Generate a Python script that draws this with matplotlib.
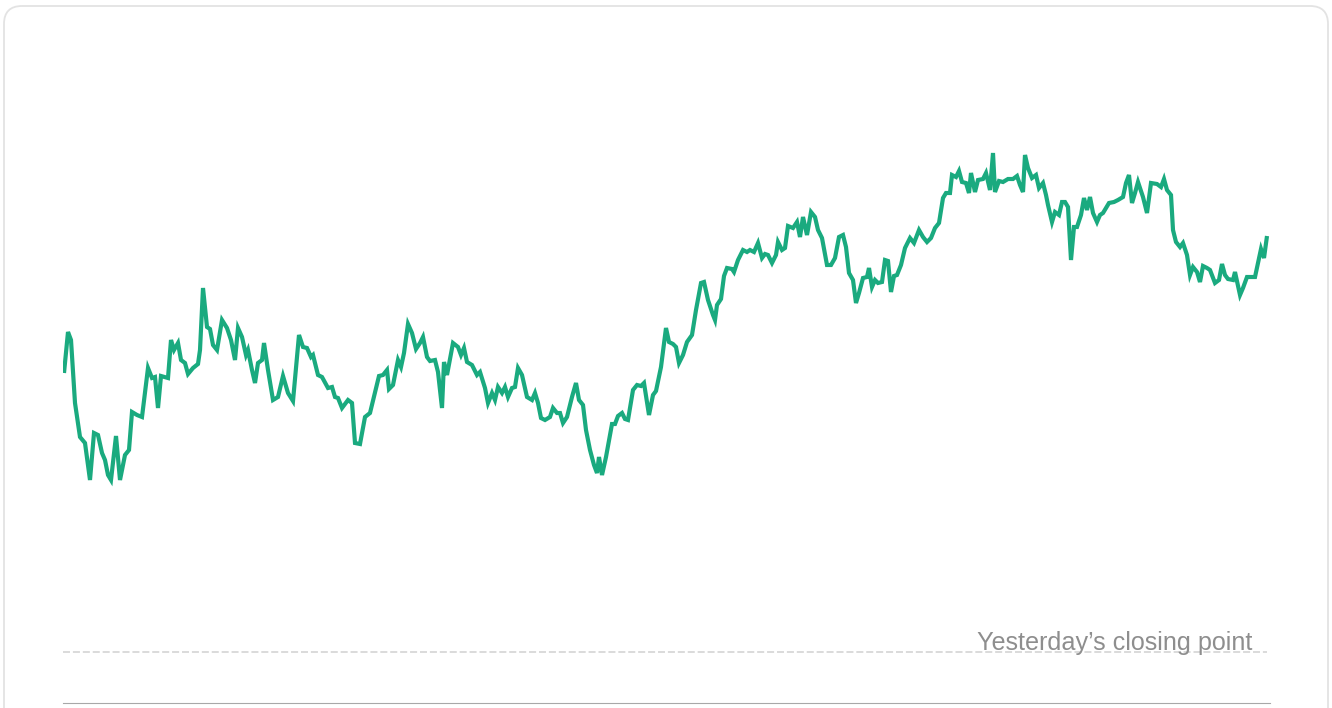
import matplotlib
matplotlib.use("Agg")
import matplotlib.pyplot as plt
from matplotlib.patches import FancyBboxPatch
from matplotlib.transforms import IdentityTransform

# intraday ticks (20 s each) since the open
ticks = [1, 5, 8, 12, 17, 22, 27, 31, 35, 39, 42, 45, 48, 53, 57, 62, 66, 69, 74, 79,
         85, 89, 92, 95, 98, 105, 108, 111, 115, 118, 122, 125, 130, 135, 137, 140, 144, 147, 150, 154,
         159, 164, 168, 172, 175, 179, 183, 185, 189, 192, 195, 199, 201, 205, 210, 215, 220, 225, 230, 236,
         240, 244, 248, 250, 255, 259, 265, 269, 272, 275, 279, 285, 289, 292, 297, 302, 307, 316, 320, 324,
         326, 330, 335, 338, 341, 345, 349, 353, 357, 360, 364, 367, 372, 375, 379, 381, 384, 390, 395, 398,
         401, 404, 409, 414, 417, 422, 425, 429, 432, 435, 439, 442, 445, 449, 452, 455, 459, 464, 469, 472,
         475, 478, 482, 487, 490, 494, 497, 500, 504, 509, 513, 516, 520, 523, 527, 531, 534, 536, 539, 543,
         549, 552, 555, 559, 562, 565, 570, 574, 578, 581, 586, 590, 593, 598, 603, 606, 610, 613, 616, 620,
         624, 629, 633, 638, 641, 645, 650, 652, 654, 658, 661, 664, 669, 671, 675, 680, 684, 687, 691, 695,
         699, 702, 705, 709, 713, 715, 719, 722, 725, 730, 734, 737, 740, 744, 748, 752, 755, 759, 764, 768,
         772, 776, 780, 783, 786, 790, 793, 796, 800, 804, 806, 809, 812, 815, 819, 822, 825, 828, 831, 834,
         838, 842, 847, 851, 856, 860, 864, 868, 872, 876, 880, 883, 887, 889, 893, 896, 899, 903, 906, 908,
         912, 915, 920, 923, 927, 930, 932, 936, 940, 945, 950, 954, 957, 960, 962, 965, 969, 973, 976, 980,
         983, 985, 989, 992, 996, 999, 1002, 1005, 1008, 1011, 1014, 1018, 1021, 1024, 1027, 1030, 1034, 1037, 1040, 1046,
         1051, 1055, 1060, 1063, 1066, 1069, 1072, 1075, 1080, 1084, 1088, 1094, 1098, 1101, 1104, 1108, 1110, 1113, 1117, 1120,
         1124, 1127, 1130, 1134, 1137, 1140, 1144, 1147, 1152, 1156, 1159, 1162, 1165, 1170, 1172, 1177, 1180, 1184, 1189, 1192,
         1198, 1201, 1204]

# points above yesterday's close
change = [279, 320, 312, 249, 215, 209, 172, 219, 217, 199, 192, 177, 172, 216, 172, 197, 202, 240, 237, 235,
          284, 274, 275, 244, 276, 274, 312, 302, 309, 292, 289, 278, 284, 288, 302, 364, 325, 323, 307, 302,
          332, 324, 312, 292, 324, 315, 297, 302, 282, 269, 289, 292, 309, 282, 252, 255, 276, 259, 251, 317,
          305, 304, 295, 297, 277, 275, 264, 265, 255, 254, 244, 252, 249, 209, 208, 235, 239, 276, 277, 282,
          263, 267, 292, 285, 299, 328, 319, 303, 309, 315, 295, 291, 292, 280, 244, 290, 277, 309, 305, 297,
          304, 290, 287, 277, 280, 264, 249, 259, 252, 265, 259, 265, 255, 264, 265, 284, 277, 255, 252, 259,
          249, 234, 232, 235, 244, 239, 239, 229, 235, 255, 269, 252, 247, 222, 202, 187, 179, 195, 177, 195,
          228, 228, 236, 239, 233, 232, 262, 267, 266, 269, 237, 257, 261, 285, 324, 310, 308, 305, 289, 297,
          310, 317, 342, 369, 370, 352, 337, 332, 347, 353, 376, 384, 383, 380, 392, 402, 400, 402, 400, 409,
          394, 398, 397, 389, 397, 410, 402, 404, 426, 424, 430, 415, 435, 417, 440, 435, 422, 414, 387, 387,
          394, 415, 417, 405, 379, 372, 349, 359, 374, 375, 384, 365, 372, 369, 370, 392, 391, 360, 376, 377,
          387, 404, 414, 409, 422, 415, 410, 414, 424, 429, 454, 459, 459, 477, 475, 481, 470, 469, 459, 479,
          460, 472, 473, 479, 462, 499, 460, 471, 470, 473, 473, 476, 467, 460, 497, 484, 474, 477, 464, 469,
          457, 447, 430, 440, 437, 450, 450, 445, 392, 425, 425, 437, 454, 442, 455, 439, 430, 437, 439, 449,
          450, 452, 455, 469, 477, 449, 459, 470, 455, 439, 469, 468, 465, 473, 462, 457, 422, 410, 405, 409,
          397, 377, 385, 380, 370, 386, 384, 382, 369, 372, 388, 377, 373, 372, 380, 357, 364, 375, 375, 375,
          403, 394, 416]

close_label = "Yesterday\u2019s closing point"

W, H = 1332, 708
fig = plt.figure(figsize=(W / 100, H / 100), dpi=100)
fig.patch.set_facecolor("white")

# card outline (behind the axes)
card = FancyBboxPatch((4, -40), W - 8, H + 40 - 6,
                      boxstyle="round,pad=0,rounding_size=18",
                      transform=IdentityTransform(), facecolor="none",
                      edgecolor="#e3e3e3", linewidth=1.3, zorder=-10)
fig.patches.append(card)

ax = fig.add_axes([63 / W, 5 / H, 1207 / W, 583 / H])
ax.set_facecolor("none")

ax.plot(ticks, change, color="#1aaa7f", lw=3.0, solid_joinstyle="miter",
        solid_capstyle="butt", zorder=3)

# yesterday's close reference
ax.hlines(0, 0, ticks[-1], colors="#dadada", linestyles=(0, (3.6, 1.5)), lw=1.4, zorder=2)
ax.annotate(close_label, xy=(ticks[-1], 0), xytext=(-10.5, 1.2), textcoords="offset points",
            ha="right", va="baseline", fontsize=18.1, color="#8e8e8e",
            family=["Liberation Sans", "DejaVu Sans"])

ax.set_xlim(0, 1207)
ax.set_ylim(-51, 532)
ax.set_xticks([])
ax.set_yticks([])
for s in ["top", "left", "right"]:
    ax.spines[s].set_visible(False)
ax.spines["bottom"].set_color("#a8a8a8")
ax.spines["bottom"].set_linewidth(0.8)

fig.savefig("out.png", dpi=100, facecolor="white")
